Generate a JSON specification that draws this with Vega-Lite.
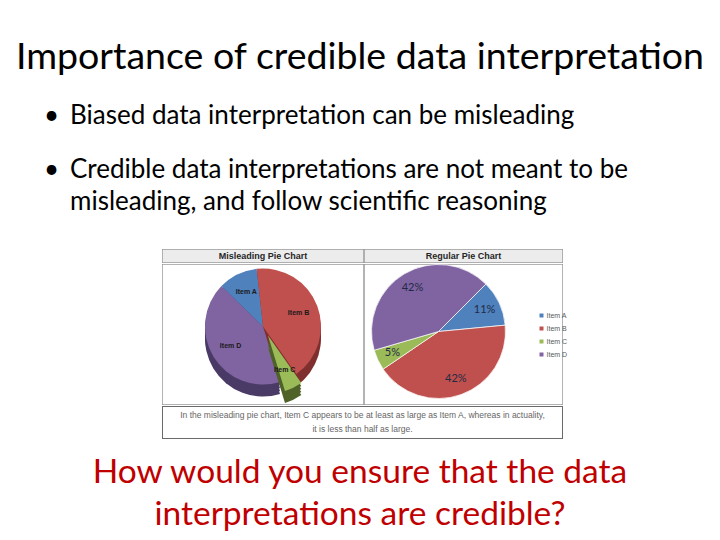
{
  "$schema": "https://vega.github.io/schema/vega-lite/v6.json",
  "background": "white",
  "padding": 0,
  "spacing": 0,
  "config": {"view": {"stroke": null}, "font": "Lato"},
  "datasets": {
    "pie": [
      {"item": "Item A", "value": 0.11},
      {"item": "Item B", "value": 0.42},
      {"item": "Item C", "value": 0.05},
      {"item": "Item D", "value": 0.42}
    ]
  },
  "vconcat": [
    {
      "width": 720, "height": 249,
      "layer": [
        {
          "data": {"values": [{"row": "title", "text": "Importance of credible data interpretation"}]},
          "mark": {"type": "text", "font": "Lato", "fontSize": 37.5, "baseline": "alphabetic", "align": "center", "fill": "#000000"},
          "encoding": {
            "y": {"field": "row", "type": "nominal", "scale": {"domain": ["title", "p1", "p2"], "range": [69, 178], "padding": 0}, "axis": null},
            "text": {"field": "text"}
          }
        },
        {
          "data": {"values": [
            {"row": "p1", "col": "dot", "text": "•"},
            {"row": "p1", "col": "txt", "text": "Biased data interpretation can be misleading"},
            {"row": "p2", "col": "dot", "text": "•"},
            {"row": "p2", "col": "txt", "text": "Credible data interpretations are not meant to be\nmisleading, and follow scientific reasoning"}
          ]},
          "mark": {"type": "text", "font": "Lato", "fontSize": 26, "baseline": "alphabetic", "align": "left", "lineBreak": "\n", "lineHeight": 32, "fill": "#000000"},
          "encoding": {
            "x": {"field": "col", "type": "nominal", "scale": {"domain": ["dot", "txt"], "range": [44, 70], "padding": 0}, "axis": null},
            "y": {"field": "row", "type": "nominal", "axis": null},
            "text": {"field": "text"}
          }
        }
      ]
    },
    {
      "spacing": 0,
      "hconcat": [
        {
          "width": 162, "height": 188,
          "data": {"values": [{}]},
          "mark": {"type": "text", "text": ""},
          "encoding": {}
        },
        {
          "spacing": 0,
          "vconcat": [
            {
              "spacing": 0,
              "hconcat": [
                {
                  "width": 202, "height": 14,
                  "layer": [
                    {"data": {"values": [{}]}, "mark": {"type": "rect", "clip": true, "fill": "#ececec", "stroke": "#9a9a9a", "strokeWidth": 1.5}, "encoding": {}},
                    {"data": {"values": [{"t": "Misleading Pie Chart"}]},
                     "mark": {"type": "text", "font": "Liberation Sans", "fontWeight": "bold", "fontSize": 9, "baseline": "middle", "align": "center", "fill": "#262626"},
                     "encoding": {"text": {"field": "t"}}}
                  ]
                },
                {
                  "width": 199, "height": 14,
                  "layer": [
                    {"data": {"values": [{}]}, "mark": {"type": "rect", "clip": true, "fill": "#ececec", "stroke": "#9a9a9a", "strokeWidth": 1.5}, "encoding": {}},
                    {"data": {"values": [{"t": "Regular Pie Chart"}]},
                     "mark": {"type": "text", "font": "Liberation Sans", "fontWeight": "bold", "fontSize": 9, "baseline": "middle", "align": "center", "fill": "#262626"},
                     "encoding": {"text": {"field": "t"}}}
                  ]
                }
              ]
            },
            {
              "spacing": 0,
              "resolve": {"scale": {"color": "independent", "fill": "independent", "theta": "independent"}, "legend": {"color": "independent"}},
              "hconcat": [
                {
                  "width": 202, "height": 141,
                  "layer": [
                    {"data": {"values": [{}]}, "mark": {"type": "rect", "clip": true, "fill": "white", "stroke": "#9a9a9a", "strokeWidth": 1.5}, "encoding": {}},
                    {
                      "data": {"name": "pie"},
                      "encoding": {
                        "theta": {"field": "value", "type": "quantitative", "stack": true, "scale": {"range": [-0.8, 5.4832]}},
                        "order": {"field": "item", "type": "ordinal"}
                      },
                      "layer": [
                        {"mark": {"type": "arc", "radius": 58, "yOffset": 4},
                         "encoding": {"fill": {"field": "item", "type": "nominal", "scale": {"domain": ["Item A", "Item B", "Item C", "Item D"], "range": ["#34557d", "#7f302e", "#4f6228", "#4a3a66"]}, "legend": null},
                          "opacity": {"condition": {"test": "datum.item === 'Item C'", "value": 0}, "value": 1}}},
                        {"mark": {"type": "arc", "radius": 58, "yOffset": 1},
                         "encoding": {"fill": {"field": "item", "type": "nominal", "legend": null},
                          "opacity": {"condition": {"test": "datum.item === 'Item C'", "value": 0}, "value": 1}}},
                        {"mark": {"type": "arc", "radius": 58, "yOffset": -2},
                         "encoding": {"fill": {"field": "item", "type": "nominal", "legend": null},
                          "opacity": {"condition": {"test": "datum.item === 'Item C'", "value": 0}, "value": 1}}},
                        {"mark": {"type": "arc", "radius": 58, "yOffset": -5},
                         "encoding": {"fill": {"field": "item", "type": "nominal", "legend": null},
                          "opacity": {"condition": {"test": "datum.item === 'Item C'", "value": 0}, "value": 1}}},
                        {"mark": {"type": "arc", "radius": 58, "yOffset": -8},
                         "encoding": {"color": {"field": "item", "type": "nominal", "scale": {"domain": ["Item A", "Item B", "Item C", "Item D"], "range": ["#4F81BD", "#C0504D", "#9BBB59", "#8064A2"]}, "legend": null},
                          "opacity": {"condition": {"test": "datum.item === 'Item C'", "value": 0}, "value": 1}}},
                        {"mark": {"type": "arc", "radius": 58, "xOffset": 5, "yOffset": 13},
                         "encoding": {"fill": {"field": "item", "type": "nominal", "legend": null},
                          "opacity": {"condition": {"test": "datum.item === 'Item C'", "value": 1}, "value": 0}}},
                        {"mark": {"type": "arc", "radius": 58, "xOffset": 5, "yOffset": 10},
                         "encoding": {"fill": {"field": "item", "type": "nominal", "legend": null},
                          "opacity": {"condition": {"test": "datum.item === 'Item C'", "value": 1}, "value": 0}}},
                        {"mark": {"type": "arc", "radius": 58, "xOffset": 5, "yOffset": 7},
                         "encoding": {"fill": {"field": "item", "type": "nominal", "legend": null},
                          "opacity": {"condition": {"test": "datum.item === 'Item C'", "value": 1}, "value": 0}}},
                        {"mark": {"type": "arc", "radius": 58, "xOffset": 5, "yOffset": 4},
                         "encoding": {"fill": {"field": "item", "type": "nominal", "legend": null},
                          "opacity": {"condition": {"test": "datum.item === 'Item C'", "value": 1}, "value": 0}}},
                        {"mark": {"type": "arc", "radius": 58, "xOffset": 5, "yOffset": 1},
                         "encoding": {"color": {"field": "item", "type": "nominal", "legend": null},
                          "opacity": {"condition": {"test": "datum.item === 'Item C'", "value": 1}, "value": 0}}},
                        {"mark": {"type": "text", "radius": 38, "yOffset": -8, "font": "Liberation Sans", "fontWeight": "bold", "fontSize": 7, "fill": "#1a1a1a"},
                         "encoding": {"text": {"field": "item"},
                          "opacity": {"condition": {"test": "datum.item === 'Item C'", "value": 0}, "value": 1}}},
                        {"mark": {"type": "text", "radius": 38, "xOffset": 5, "yOffset": 1, "font": "Liberation Sans", "fontWeight": "bold", "fontSize": 7, "fill": "#1a1a1a"},
                         "encoding": {"text": {"field": "item"},
                          "opacity": {"condition": {"test": "datum.item === 'Item C'", "value": 1}, "value": 0}}}
                      ]
                    }
                  ]
                },
                {
                  "width": 199, "height": 141,
                  "layer": [
                    {"data": {"values": [{}]}, "mark": {"type": "rect", "clip": true, "fill": "white", "stroke": "#9a9a9a", "strokeWidth": 1.5}, "encoding": {}},
                    {
                      "data": {"name": "pie"},
                      "encoding": {
                        "theta": {"field": "value", "type": "quantitative", "stack": true, "scale": {"range": [0.785, 7.0682]}},
                        "order": {"field": "item", "type": "ordinal"}
                      },
                      "layer": [
                        {"mark": {"type": "arc", "radius": 67, "xOffset": -25, "yOffset": -3, "stroke": "white", "strokeWidth": 0.7},
                         "encoding": {"color": {"field": "item", "type": "nominal",
                           "scale": {"domain": ["Item A", "Item B", "Item C", "Item D"], "range": ["#4F81BD", "#C0504D", "#9BBB59", "#8064A2"]},
                           "legend": {"orient": "none", "legendX": 174, "legendY": 48, "title": null, "symbolType": "square", "symbolSize": 16, "symbolStrokeWidth": 0, "labelFontSize": 7, "labelFont": "Liberation Sans", "labelColor": "#595959", "rowPadding": 5, "labelOffset": 1.5, "padding": 0}}}},
                        {"mark": {"type": "text", "radius": 51, "xOffset": -25, "yOffset": -3, "font": "Lato", "fontSize": 11, "fill": "#1f2a44"},
                         "encoding": {"text": {"field": "value", "type": "quantitative", "format": ".0%"}}}
                      ]
                    }
                  ]
                }
              ]
            },
            {
              "width": 401, "height": 33,
              "layer": [
                {"data": {"values": [{}]}, "mark": {"type": "rect", "clip": true, "fill": "white", "stroke": "#6a6a6a", "strokeWidth": 2}, "encoding": {}},
                {"data": {"values": [
                   {"line": "l1", "t": "In the misleading pie chart, Item C appears to be at least as large as Item A, whereas in actuality,"},
                   {"line": "l2", "t": "it is less than half as large."}
                 ]},
                 "mark": {"type": "text", "font": "Liberation Sans", "fontSize": 8.5, "baseline": "alphabetic", "align": "center", "fill": "#666666"},
                 "encoding": {
                   "y": {"field": "line", "type": "nominal", "scale": {"domain": ["l1", "l2"], "range": [12, 26], "padding": 0}, "axis": null},
                   "text": {"field": "t"}
                 }}
              ]
            }
          ]
        }
      ]
    },
    {
      "width": 720, "height": 88,
      "data": {"values": [{"text": "How would you ensure that the data\ninterpretations are credible?"}]},
      "mark": {"type": "text", "font": "Lato", "fontSize": 33.5, "baseline": "alphabetic", "align": "center", "lineBreak": "\n", "lineHeight": 42, "fill": "#C00000"},
      "encoding": {"text": {"field": "text"}}
    }
  ]
}
